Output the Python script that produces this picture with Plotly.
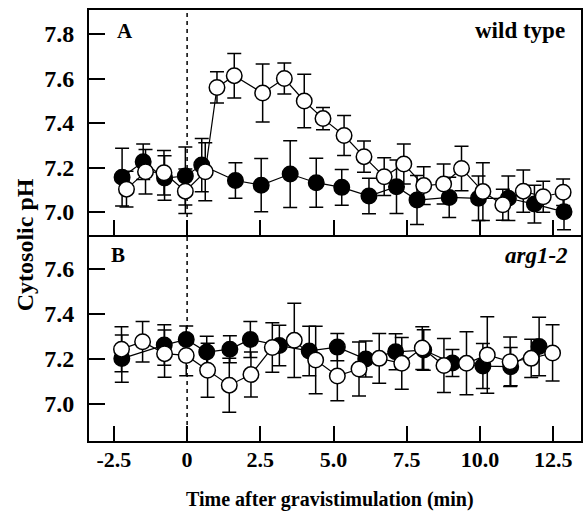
import plotly.graph_objects as go

# ---------------- data ----------------
# Panel A (wild type): filled = control, open = gravistimulated
a_filled_t = [-2.22, -1.50, -0.77, -0.06, 0.50, 1.65, 2.53, 3.52, 4.41, 5.28, 6.21, 7.15, 7.85, 8.95, 9.95, 10.97, 11.86, 12.87]
a_filled_ph = [7.157, 7.226, 7.153, 7.162, 7.211, 7.142, 7.121, 7.171, 7.132, 7.111, 7.072, 7.114, 7.054, 7.066, 7.062, 7.062, 7.036, 7.001]
a_filled_err = [0.13, 0.08, 0.10, 0.13, 0.12, 0.08, 0.12, 0.15, 0.11, 0.08, 0.08, 0.12, 0.11, 0.09, 0.10, 0.10, 0.085, 0.08]

a_open_t = [-2.07, -1.42, -0.79, -0.06, 0.62, 1.02, 1.61, 2.58, 3.32, 4.00, 4.64, 5.36, 6.04, 6.73, 7.40, 8.08, 8.76, 9.37, 10.10, 10.78, 11.48, 12.16, 12.84]
a_open_ph = [7.103, 7.181, 7.177, 7.094, 7.181, 7.560, 7.613, 7.535, 7.600, 7.499, 7.420, 7.344, 7.249, 7.159, 7.216, 7.119, 7.126, 7.196, 7.092, 7.033, 7.094, 7.069, 7.089]
a_open_err = [0.08, 0.10, 0.10, 0.10, 0.13, 0.07, 0.10, 0.13, 0.07, 0.12, 0.05, 0.09, 0.07, 0.085, 0.09, 0.085, 0.09, 0.10, 0.13, 0.07, 0.095, 0.07, 0.06]

# Panel B (arg1-2)
b_filled_t = [-2.23, -0.78, -0.03, 0.67, 1.46, 2.16, 3.15, 4.17, 5.13, 6.10, 7.12, 8.08, 9.06, 10.10, 11.05, 12.02]
b_filled_ph = [7.202, 7.262, 7.287, 7.231, 7.244, 7.287, 7.260, 7.236, 7.253, 7.200, 7.232, 7.240, 7.182, 7.169, 7.166, 7.256]
b_filled_err = [0.105, 0.09, 0.06, 0.07, 0.06, 0.08, 0.09, 0.11, 0.06, 0.08, 0.08, 0.09, 0.06, 0.10, 0.085, 0.13]

b_open_t = [-2.24, -1.52, -0.77, -0.03, 0.70, 1.44, 2.18, 2.91, 3.66, 4.39, 5.13, 5.87, 6.56, 7.33, 8.03, 8.77, 9.54, 10.25, 11.03, 11.75, 12.48]
b_open_ph = [7.244, 7.277, 7.224, 7.216, 7.150, 7.084, 7.131, 7.251, 7.283, 7.196, 7.125, 7.156, 7.203, 7.181, 7.249, 7.171, 7.181, 7.218, 7.188, 7.203, 7.227]
b_open_err = [0.10, 0.09, 0.105, 0.09, 0.12, 0.12, 0.10, 0.11, 0.165, 0.15, 0.11, 0.12, 0.11, 0.115, 0.095, 0.12, 0.14, 0.17, 0.11, 0.085, 0.125]

x_tick_vals = [-2.5, 0, 2.5, 5.0, 7.5, 10.0, 12.5]
x_tick_text = ["-2.5", "0", "2.5", "5.0", "7.5", "10.0", "12.5"]
a_y_ticks = [7.0, 7.2, 7.4, 7.6, 7.8]
b_y_ticks = [7.0, 7.2, 7.4, 7.6]

FONT = "Liberation Serif"


def series(t, ph, err, filled, xa, ya):
    return go.Scatter(
        x=t, y=ph, xaxis=xa, yaxis=ya, mode="lines+markers",
        line=dict(color="black", width=1.2),
        marker=dict(symbol="circle", size=15.5,
                    color="black" if filled else "white",
                    line=dict(color="black", width=1.5)),
        error_y=dict(type="data", array=err, visible=True,
                     color="black", thickness=1.5, width=7),
        showlegend=False, cliponaxis=False,
    )


fig = go.Figure()
fig.add_trace(series(a_filled_t, a_filled_ph, a_filled_err, True, "x", "y"))
fig.add_trace(series(a_open_t, a_open_ph, a_open_err, False, "x", "y"))
fig.add_trace(series(b_filled_t, b_filled_ph, b_filled_err, True, "x2", "y2"))
fig.add_trace(series(b_open_t, b_open_ph, b_open_err, False, "x2", "y2"))

split = (441 - 235) / 431
xr = [-3.35, 13.45]

common_x = dict(range=xr, showgrid=False, zeroline=False, showline=True,
                linecolor="black", linewidth=2,
                ticks="inside", ticklen=15, tickwidth=1.5, tickcolor="black",
                tickvals=x_tick_vals, ticktext=x_tick_text,
                tickfont=dict(family=FONT, size=22, color="black", weight="bold"))
common_y = dict(showgrid=False, zeroline=False, showline=True,
                mirror=True, linecolor="black", linewidth=2,
                ticks="inside", ticklen=16, tickwidth=1.5, tickcolor="black",
                ticklabelstandoff=8,
                tickfont=dict(family=FONT, size=24, color="black", weight="bold"))

fig.update_layout(
    width=584, height=521,
    margin=dict(l=89, r=1, t=10, b=80),
    paper_bgcolor="white", plot_bgcolor="white",
    xaxis=dict(common_x, anchor="y", mirror=True, showticklabels=False),
    xaxis2=dict(common_x, anchor="y2", mirror=False, ticklabelstandoff=-2),
    yaxis=dict(common_y, domain=[split, 1], range=[6.897, 7.908], anchor="x",
               tickvals=a_y_ticks, ticktext=["%.1f" % v for v in a_y_ticks]),
    yaxis2=dict(common_y, domain=[0, split], range=[6.836, 7.751], anchor="x2",
                tickvals=b_y_ticks, ticktext=["%.1f" % v for v in b_y_ticks]),
)

# dashed vertical line at t = 0 through both panels
fig.add_shape(type="line", xref="x", yref="paper", x0=0, x1=0, y0=0, y1=1,
              line=dict(color="black", width=1.5, dash="4px,4px"), layer="below")


def px_x(p):
    return (p - 89) / 494


def px_y(p):
    return (441 - p) / 431


anns = [
    dict(text="Cytosolic pH", x=px_x(25), y=px_y(245), textangle=-90, size=24),
    dict(text="Time after gravistimulation (min)", x=px_x(331), y=px_y(499), size=20),
    dict(text="A", x=px_x(125), y=px_y(31), size=21),
    dict(text="B", x=px_x(118), y=px_y(255), size=21),
    dict(text="wild type", x=px_x(569), y=px_y(30), size=23, xanchor="right"),
    dict(text="<i>arg1-2</i>", x=px_x(572), y=px_y(256), size=23, xanchor="right"),
]
for a in anns:
    fig.add_annotation(
        text=a["text"], xref="paper", yref="paper", x=a["x"], y=a["y"],
        xanchor=a.get("xanchor", "center"), yanchor="middle",
        textangle=a.get("textangle", 0), showarrow=False,
        font=dict(family=FONT, size=a["size"], color="black", weight="bold"),
    )

fig.write_html("out.html", config={"displayModeBar": False},
               post_script="document.body.style.margin='0';")
